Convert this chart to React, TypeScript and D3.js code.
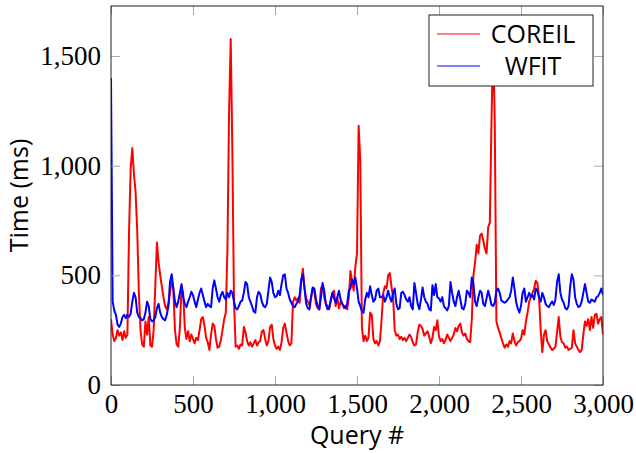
import React, { useRef, useEffect } from "react";
import * as d3 from "d3";

// Data (one sample every 10 queries)
const queries = d3.range(0, 3001, 10);

const coreil = [
  300, 230, 200, 215, 250, 225, 240, 205, 245, 215,
  230, 700, 990, 1080, 960, 880, 700, 420, 250, 185,
  175, 290, 230, 310, 180, 175, 250, 450, 650, 560,
  500, 450, 400, 360, 345, 370, 420, 480, 440, 250,
  185, 175, 260, 450, 420, 260, 210, 245, 200, 230,
  210, 190, 215, 205, 250, 300, 310, 270, 215, 195,
  160, 230, 280, 270, 210, 170, 175, 205, 250, 300,
  330, 620, 1250, 1577, 1060, 380, 175, 180, 165, 185,
  180, 265, 240, 200, 180, 195, 175, 190, 205, 180,
  195, 200, 245, 250, 210, 180, 200, 265, 275, 210,
  180, 165, 175, 160, 195, 260, 280, 240, 200, 180,
  190, 380, 400, 385, 395, 375, 470, 530, 440, 395,
  380, 365, 400, 440, 425, 370, 350, 345, 440, 455,
  400, 370, 360, 345, 380, 420, 430, 360, 400, 350,
  380, 370, 350, 360, 345, 400, 520, 470, 430, 540,
  600, 1182, 1020, 260, 200, 225, 200, 215, 330, 320,
  210, 190, 200, 180, 200, 300, 420, 450, 440, 500,
  510, 450, 400, 250, 225, 230, 210, 220, 205, 215,
  200, 215, 230, 220, 195, 180, 185, 240, 275, 270,
  255, 225, 235, 245, 220, 190, 215, 265, 250, 295,
  220, 200, 210, 190, 205, 230, 215, 200, 215, 230,
  260, 245, 270, 280, 240, 225, 235, 210, 200, 195,
  300, 500, 560, 640, 600, 680, 690, 660, 620, 600,
  720, 740, 1200, 1560, 1200, 290, 260, 240, 215, 190,
  170, 185, 175, 200, 190, 235, 200, 180, 195, 200,
  210, 250, 230, 290, 330, 380, 400, 420, 440, 475,
  465, 400, 250, 150, 230, 250, 200, 185, 170, 160,
  165, 175, 240, 310, 220, 195, 190, 170, 175, 160,
  165, 170, 250, 190, 175, 160, 150, 160, 230, 290,
  270, 300, 250, 310, 260, 320, 325, 280, 300, 310,
  230,
];

const wfit = [
  1400, 380, 340, 320, 275, 265, 280, 310, 320, 305,
  320, 310, 325, 380, 420, 400, 330, 310, 305, 295,
  300, 330, 380, 360, 300, 290, 295, 310, 350, 370,
  330, 310, 300, 295, 320, 360, 470, 505, 440, 380,
  355, 380, 420, 460, 400, 370, 355, 380, 400, 425,
  410, 380, 355, 390, 420, 440, 410, 380, 355, 370,
  360, 355, 440, 477, 440, 400, 380, 410, 425, 400,
  390, 420, 400, 430, 420, 380, 350, 345, 360, 380,
  385, 420, 470, 460, 400, 380, 360, 335, 330, 400,
  425, 415, 380, 360, 355, 370, 430, 490, 470, 420,
  400, 405, 430, 410, 460, 500, 505, 440, 420, 390,
  375, 360, 355, 370, 380, 410, 480, 505, 440, 370,
  350, 345, 400, 445, 440, 390, 360, 345, 400, 465,
  430, 370, 345, 350, 390, 420, 395, 375, 400, 430,
  390, 370, 360, 350, 370, 430, 440, 480, 460, 490,
  440, 380, 360, 335, 330, 390, 420, 400, 450, 410,
  380, 390, 430, 440, 400, 400, 410, 380, 400, 430,
  400, 380, 420, 440, 370, 345, 350, 420, 425, 410,
  390, 380, 400, 360, 345, 465, 420, 370, 345, 390,
  445, 400, 380, 370, 345, 340, 455, 410, 460, 400,
  395, 380, 400, 360, 350, 340, 360, 470, 420, 380,
  360, 400, 430, 390, 350, 345, 370, 430, 420, 400,
  490, 460, 380, 360, 400, 430, 420, 370, 360, 395,
  430, 400, 365, 360, 375, 430, 440, 420, 385, 380,
  375, 380, 390, 400, 430, 490, 440, 380, 350, 330,
  360, 420, 440, 380, 400, 420, 400, 410, 390, 440,
  430, 400, 380, 420, 400, 370, 360, 355, 370, 380,
  365, 390, 470, 505, 420, 390, 375, 350, 345, 360,
  450, 505, 480, 400, 370, 355, 360, 380, 420, 460,
  420, 380, 375, 390, 385, 380, 400, 405, 420, 440,
  410,
];

const xTicks = [0, 500, 1000, 1500, 2000, 2500, 3000];
const yTicks = [0, 500, 1000, 1500];
const seriesNames = ["COREIL", "WFIT"];
const seriesColors = ["#ff0000", "#0000ff"];

const LineChart = () => {
  const svgRef = useRef(null);

  useEffect(() => {
    // Dimensions
    const dimensions = {
      width: 636,
      height: 453,
      left: 111,
      right: 603,
      top: 6,
      bottom: 385,
    };
    const serif = "'Liberation Serif', 'DejaVu Serif', serif";
    const sans = "'Open Sans', 'DejaVu Sans', sans-serif";

    const svg = d3
      .select(svgRef.current)
      .attr("width", dimensions.width)
      .attr("height", dimensions.height);

    svg.selectAll("*").remove();

    // Scales
    const xScale = d3.scaleLinear().domain([0, 3000]).range([dimensions.left, dimensions.right]);
    const yScale = d3.scaleLinear().domain([0, 1728]).range([dimensions.bottom, dimensions.top]);

    svg
      .append("defs")
      .append("clipPath")
      .attr("id", "plot-clip")
      .append("rect")
      .attr("x", dimensions.left)
      .attr("y", dimensions.top)
      .attr("width", dimensions.right - dimensions.left)
      .attr("height", dimensions.bottom - dimensions.top);

    // Lines
    const lineGenerator = d3
      .line<number>()
      .x((d, i) => xScale(queries[i]))
      .y((d) => yScale(d));

    [coreil, wfit].forEach((values, i) => {
      svg
        .append("path")
        .datum(values)
        .attr("clip-path", "url(#plot-clip)")
        .attr("d", lineGenerator)
        .attr("fill", "none")
        .attr("stroke", seriesColors[i])
        .attr("stroke-width", 2)
        .attr("stroke-linejoin", "round");
    });

    // Axes (ticks pointing inward)
    const styleAxis = (g, labels) => {
      g.select(".domain").remove();
      g.selectAll(".tick line").attr("stroke", "#a8a8a8").attr("stroke-width", 1);
      g.selectAll(".tick text")
        .attr("fill", "#000")
        .style("font-family", serif)
        .style("font-size", "27px");
      if (!labels) g.selectAll(".tick text").remove();
    };

    svg
      .append("g")
      .attr("transform", `translate(0, ${dimensions.bottom})`)
      .call(d3.axisBottom(xScale).tickValues(xTicks).tickSizeInner(-9).tickSizeOuter(0).tickPadding(9).tickFormat(d3.format(",")))
      .call((g) => styleAxis(g, true));

    svg
      .append("g")
      .attr("transform", `translate(0, ${dimensions.top})`)
      .call(d3.axisTop(xScale).tickValues(xTicks).tickSizeInner(-9).tickSizeOuter(0))
      .call((g) => styleAxis(g, false));

    svg
      .append("g")
      .attr("transform", `translate(${dimensions.left}, 0)`)
      .call(d3.axisLeft(yScale).tickValues(yTicks).tickSizeInner(-9).tickSizeOuter(0).tickPadding(10).tickFormat(d3.format(",")))
      .call((g) => styleAxis(g, true));

    svg
      .append("g")
      .attr("transform", `translate(${dimensions.right}, 0)`)
      .call(d3.axisRight(yScale).tickValues(yTicks).tickSizeInner(-9).tickSizeOuter(0))
      .call((g) => styleAxis(g, false));

    // Frame
    svg
      .append("rect")
      .attr("x", dimensions.left)
      .attr("y", dimensions.top)
      .attr("width", dimensions.right - dimensions.left)
      .attr("height", dimensions.bottom - dimensions.top)
      .attr("fill", "none")
      .attr("stroke", "#222")
      .attr("stroke-width", 1);

    // Axis labels
    svg
      .append("text")
      .attr("x", (dimensions.left + dimensions.right) / 2)
      .attr("y", 444)
      .attr("text-anchor", "middle")
      .style("font-family", sans)
      .style("font-size", "25px")
      .text("Query #");

    svg
      .append("text")
      .attr("transform", `translate(28, ${(dimensions.top + dimensions.bottom) / 2}) rotate(-90)`)
      .attr("text-anchor", "middle")
      .style("font-family", sans)
      .style("font-size", "25px")
      .text("Time (ms)");

    // Legend
    const legend = svg.append("g");
    legend
      .append("rect")
      .attr("x", 429)
      .attr("y", 15)
      .attr("width", 164)
      .attr("height", 71)
      .attr("fill", "#fff")
      .attr("stroke", "#222")
      .attr("stroke-width", 1);

    seriesNames.forEach((name, i) => {
      const y = 34 + i * 32;
      legend
        .append("line")
        .attr("x1", 437)
        .attr("x2", 480)
        .attr("y1", y)
        .attr("y2", y)
        .attr("stroke", seriesColors[i])
        .attr("stroke-width", 1);
      legend
        .append("text")
        .attr("x", 533)
        .attr("y", y + 9)
        .attr("text-anchor", "middle")
        .style("font-family", sans)
        .style("font-size", "25px")
        .text(name);
    });
  }, []);

  return (
    <div style={{ position: "absolute", left: 0, top: 0 }}>
      <svg ref={svgRef} style={{ display: "block" }} />
    </div>
  );
};

const App = () => {
  return <LineChart />;
};

export default App;
